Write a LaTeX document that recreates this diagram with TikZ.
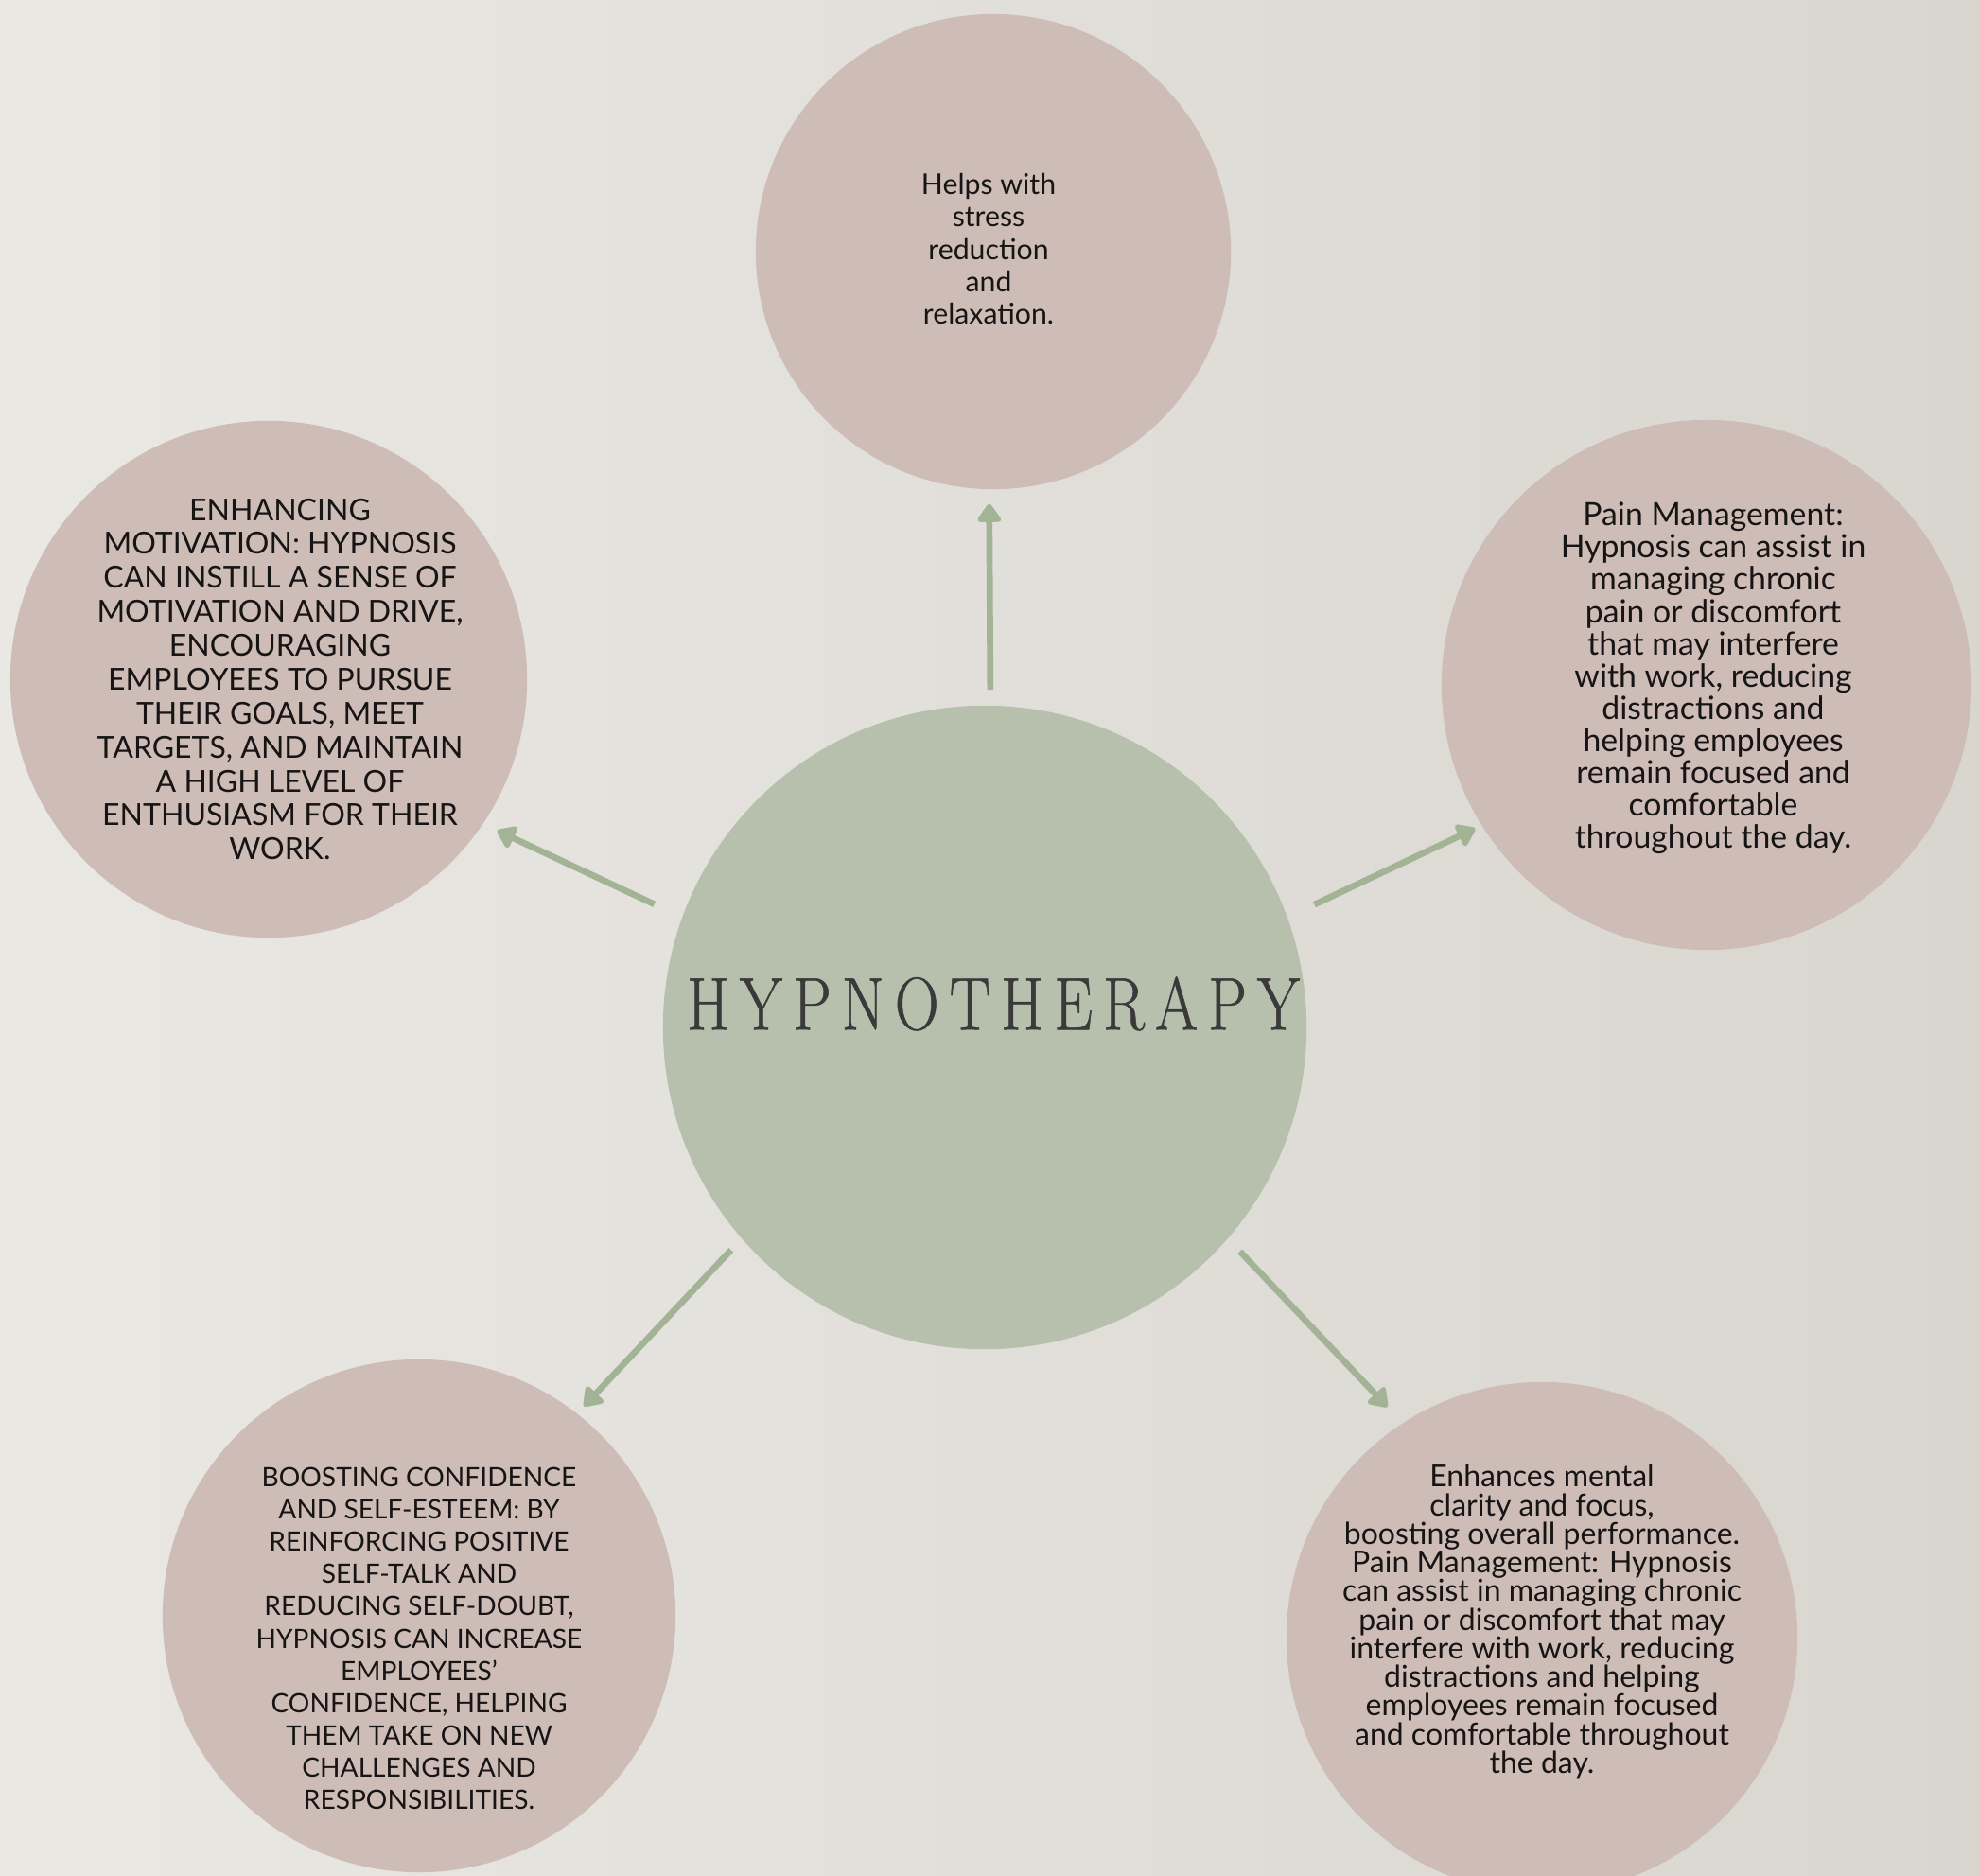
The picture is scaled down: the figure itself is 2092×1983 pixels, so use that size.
\documentclass[tikz,border=0pt]{standalone}
\usepackage{fontspec}
\setmainfont{Lato}
\newfontfamily\titlefont[FakeStretch=0.82,LetterSpace=14,FakeBold=0.6]{Latin Modern Roman}
\usetikzlibrary{arrows.meta,calc}
\definecolor{hpBack}{RGB}{234,232,227}
\definecolor{hpBackDark}{RGB}{217,214,208}
\definecolor{hpPink}{RGB}{206,189,182}
\definecolor{hpSage}{RGB}{183,192,172}
\definecolor{hpArrow}{RGB}{163,179,150}
\definecolor{hpInk}{RGB}{22,20,20}
\definecolor{hpTitle}{RGB}{58,58,58}

\begin{document}
\begin{tikzpicture}[
    x=0.01cm, y=-0.01cm,
    idea node/.style={circle, fill=hpPink, inner sep=0pt},
    idea text/.style={align=center, text=hpInk, inner sep=0pt},
    hub node/.style={circle, fill=hpSage, inner sep=0pt, minimum size=6.8cm},
    title text/.style={font=\titlefont\fontsize{22.5}{24}\selectfont, text=hpTitle, inner sep=0pt},
    link/.style={draw=hpArrow, line width=1.9pt, -{Triangle[width=8pt,length=6pt,round]}}
]
  \shade[left color=hpBack, right color=hpBackDark] (0,0) rectangle (2092,1983);
  \useasboundingbox (0,0) rectangle (2092,1983);

  % centre
  \node[hub node] (hub) at (1041,1086) {};
  \node[title text] (title) at ($(hub)+(9,-25)$) {HYPNOTHERAPY};

  % the five benefits
  \node[idea node, minimum size=5.02cm] (stress) at (1050,266) {};
  \node[idea node, minimum size=5.46cm] (motiv) at (284,718) {};
  \node[idea node, minimum size=5.6cm] (pain) at (1804,724) {};
  \node[idea node, minimum size=5.42cm] (confid) at (443,1708) {};
  \node[idea node, minimum size=5.4cm] (clarity) at (1630,1731) {};

  \node[idea text, font=\fontsize{8.6}{9.7}\selectfont] (stress text) at ($(stress)+(-5,-3)$)
    {Helps with\\stress\\reduction\\and\\relaxation.};
  \node[idea text, font=\fontsize{9.1}{10.2}\selectfont] (motiv text) at ($(motiv)+(12,0)$)
    {ENHANCING\\MOTIVATION: HYPNOSIS\\CAN INSTILL A SENSE OF\\MOTIVATION AND DRIVE,\\ENCOURAGING\\EMPLOYEES TO PURSUE\\THEIR GOALS, MEET\\TARGETS, AND MAINTAIN\\A HIGH LEVEL OF\\ENTHUSIASM FOR THEIR\\WORK.};
  \node[idea text, font=\fontsize{9.6}{9.7}\selectfont] (pain text) at ($(pain)+(7,-7)$)
    {Pain Management:\\Hypnosis can assist in\\managing chronic\\pain or discomfort\\that may interfere\\with work, reducing\\distractions and\\helping employees\\remain focused and\\comfortable\\throughout the day.};
  \node[idea text, font=\fontsize{8}{9.7}\selectfont] (confid text) at ($(confid)+(0,24)$)
    {BOOSTING CONFIDENCE\\AND SELF-ESTEEM: BY\\REINFORCING POSITIVE\\SELF-TALK AND\\REDUCING SELF-DOUBT,\\HYPNOSIS CAN INCREASE\\EMPLOYEES'\\CONFIDENCE, HELPING\\THEM TAKE ON NEW\\CHALLENGES AND\\RESPONSIBILITIES.};
  \node[idea text, font=\fontsize{9.1}{8.6}\selectfont] (clarity text) at ($(clarity)+(0,-17)$)
    {Enhances mental\\clarity and focus,\\boosting overall performance.\\Pain Management: Hypnosis\\can assist in managing chronic\\pain or discomfort that may\\interfere with work, reducing\\distractions and helping\\employees remain focused\\and comfortable throughout\\the day.};

  % arrows out of the hub
  \draw[link, shorten <=0.16cm, shorten >=0.15cm] (hub.89.3) -- (stress.-91.1);
  \draw[link, shorten <=0.32cm, shorten >=0.16cm] (hub.160) -- (motiv.-34);
  \draw[link, shorten <=0.31cm, shorten >=0.07cm] (hub.20) -- (pain.212);
  \draw[link, shorten <=0.16cm, shorten >=0.10cm] (hub.221.4) -- (confid.52.5);
  \draw[link, shorten <=0.18cm, shorten >=0.23cm] (hub.-41) -- (clarity.123.6);
\end{tikzpicture}
\end{document}
